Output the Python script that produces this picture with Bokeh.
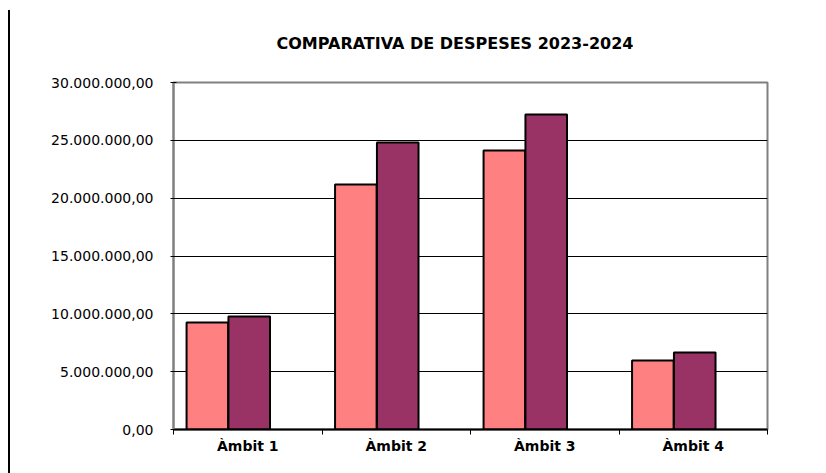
from bokeh.plotting import figure
from bokeh.models import FixedTicker, Div, ColumnDataSource
from bokeh.layouts import row
from bokeh.embed import file_html
from bokeh.resources import INLINE

# ---- data ----
categories = ["Àmbit 1", "Àmbit 2", "Àmbit 3", "Àmbit 4"]
despeses_2023 = [9250000, 21180000, 24120000, 5970000]
despeses_2024 = [9770000, 24810000, 27230000, 6660000]
y_ticks = [0, 5000000, 10000000, 15000000, 20000000, 25000000, 30000000]
y_tick_labels = ["0,00", "5.000.000,00", "10.000.000,00", "15.000.000,00",
                 "20.000.000,00", "25.000.000,00", "30.000.000,00"]
title_text = "COMPARATIVA  DE DESPESES 2023-2024"

idx = list(range(len(categories)))
src = ColumnDataSource(dict(
    x1=[i + 0.228 for i in idx],
    x2=[i + 0.51 for i in idx],
    v1=despeses_2023,
    v2=despeses_2024,
))

W, H = 800, 465
p = figure(width=W, height=H, output_backend="svg", toolbar_location=None,
           x_range=(0, len(categories)), y_range=(0, 30000000),
           min_border_left=163, min_border_right=43,
           min_border_top=82, min_border_bottom=36,
           title=title_text)

p.title.align = "left"
p.title.offset = 103
p.title.vertical_align = "top"
p.title.standoff = 55
p.title.text_font = "DejaVu Sans"
p.title.text_font_style = "bold"
p.title.text_font_size = "16px"
p.title.text_color = "black"

p.vbar(x="x1", top="v1", width=0.28, source=src, fill_color="#FF8080",
       line_color="black", line_width=2)
p.vbar(x="x2", top="v2", width=0.28, source=src, fill_color="#993366",
       line_color="black", line_width=2)

p.outline_line_color = "#808080"
p.outline_line_width = 2
p.background_fill_color = "white"
p.border_fill_color = "white"

# x axis: labels at centers, ticks at category boundaries
p.xaxis.ticker = FixedTicker(ticks=[i + 0.5 for i in idx],
                             minor_ticks=list(range(len(categories) + 1)))
p.xaxis.major_label_overrides = {i + 0.5: c for i, c in zip(idx, categories)}
p.xaxis.major_tick_out = 0
p.xaxis.major_tick_in = 0
p.xaxis.minor_tick_out = 5
p.xaxis.minor_tick_in = 0
p.xaxis.minor_tick_line_color = "black"
p.xaxis.axis_line_color = "black"
p.xaxis.axis_line_width = 2
p.xaxis.major_label_text_font = "DejaVu Sans"
p.xaxis.major_label_text_font_style = "bold"
p.xaxis.major_label_text_font_size = "14px"
p.xaxis.major_label_text_color = "black"
p.xaxis.major_label_standoff = 3
p.xgrid.visible = False

# y axis
p.yaxis.ticker = FixedTicker(ticks=y_ticks, minor_ticks=[])
p.yaxis.major_label_overrides = {t: l for t, l in zip(y_ticks, y_tick_labels)}
p.yaxis.axis_line_color = "#808080"
p.yaxis.axis_line_width = 2
p.yaxis.major_tick_in = 3
p.yaxis.major_tick_out = 3
p.yaxis.major_tick_line_color = "black"
p.yaxis.major_label_text_font = "DejaVu Sans"
p.yaxis.major_label_text_font_size = "14px"
p.yaxis.major_label_text_color = "black"
p.yaxis.major_label_standoff = 17
p.ygrid.grid_line_color = "black"
p.ygrid.grid_line_width = 1
p.ygrid.grid_line_alpha = 1

line_div = Div(text="", width=2, height=463,
               styles={"background-color": "black"}, margin=(10, 0, 0, 8))

layout = row(line_div, p)
open("out.html", "w").write(file_html(layout, INLINE))
